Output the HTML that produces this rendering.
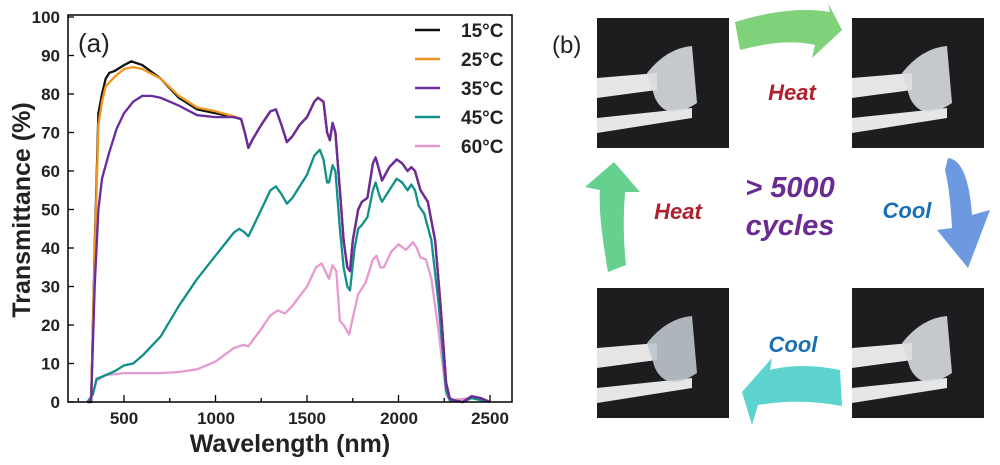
<!DOCTYPE html>
<html><head><meta charset="utf-8"><style>
body{margin:0;background:#fff;width:1000px;height:465px;overflow:hidden}
svg{display:block}
text{font-family:"Liberation Sans",Arial,sans-serif}
</style></head><body>
<svg id="s" width="1000" height="465" viewBox="0 0 1000 465">
<g id="plot"></g>
<rect x="68" y="15" width="444" height="387" fill="none" stroke="#000" stroke-width="1.5"/>
<g font-weight="bold" font-size="17" fill="#222" text-anchor="end" id="yt"></g>
<g font-weight="bold" font-size="17" fill="#222" text-anchor="middle">
<text x="124" y="424">500</text><text x="216" y="424">1000</text><text x="307" y="424">1500</text><text x="399" y="424">2000</text><text x="490" y="424">2500</text>
</g>
<text x="290" y="452" font-weight="bold" font-size="25" text-anchor="middle" fill="#222">Wavelength (nm)</text>
<text transform="translate(30,210) rotate(-90)" font-weight="bold" font-size="25" text-anchor="middle" fill="#222">Transmittance (%)</text>
<text x="78" y="52" font-size="26" fill="#222">(a)</text>
<g stroke-width="2.5">
<line x1="415" y1="30" x2="440" y2="30" stroke="#111"/>
<line x1="415" y1="59" x2="440" y2="59" stroke="#f0961e"/>
<line x1="415" y1="88" x2="440" y2="88" stroke="#6a2aa0"/>
<line x1="415" y1="117" x2="440" y2="117" stroke="#11908a"/>
<line x1="415" y1="146" x2="440" y2="146" stroke="#e79ad0"/>
</g>
<g font-weight="bold" font-size="19" fill="#222">
<text x="461" y="37">15°C</text><text x="461" y="66">25°C</text><text x="461" y="95">35°C</text><text x="461" y="124">45°C</text><text x="461" y="153">60°C</text>
</g>
<!-- panel b -->
<text x="552" y="53" font-size="24" fill="#222">(b)</text>
<g id="photos"></g>
<path d="M735,22 Q790,5 830,12 L828,3 L842,30 L812,58 L815,45 Q785,38 740,50 Z" fill="#7fd27a"/>
<path d="M948,158 Q968,160 972,215 L990,210 L968,268 L937,230 L952,228 Q950,190 945,170 Z" fill="#6d99e0"/>
<path d="M840,370 Q800,362 770,370 L772,358 L742,392 L752,425 L758,405 Q800,398 842,406 Z" fill="#5dd3d0"/>
<path d="M608,272 Q598,215 600,190 L585,187 L614,162 L640,192 L625,192 Q622,230 626,265 Z" fill="#66d18e"/>
<g font-weight="bold" font-style="italic">
<text x="792" y="100" font-size="22" fill="#b0202c" text-anchor="middle">Heat</text>
<text x="678" y="219" font-size="22" fill="#b0202c" text-anchor="middle">Heat</text>
<text x="907" y="218" font-size="22" fill="#1b6fb5" text-anchor="middle">Cool</text>
<text x="793" y="352" font-size="22" fill="#1b6fb5" text-anchor="middle">Cool</text>
<text x="790" y="197" font-size="29" fill="#6a2c91" text-anchor="middle">&gt; 5000</text>
<text x="790" y="235" font-size="29" fill="#6a2c91" text-anchor="middle">cycles</text>
</g>
</svg>
<script>
const X=l=>124+(l-500)*0.183, Y=v=>402-3.85*v;
const black=[[300,0],[320,0],[340,40],[360,75],[380,80],[400,84],[420,85.5],[450,86],[500,87.5],[540,88.5],[600,87.5],[700,84],[800,79],[900,76],[1000,75],[1100,74],[1140,73.5],[1160,70],[1180,66],[1200,68],[1250,72],[1300,75.5],[1330,76],[1360,72],[1390,67.5],[1420,69],[1460,72],[1500,74],[1540,78],[1560,79],[1590,78],[1610,70],[1625,68],[1640,72.5],[1655,70],[1680,55],[1700,42],[1720,35],[1735,34],[1750,42],[1780,50],[1800,52],[1830,53],[1860,62],[1875,63.5],[1890,61],[1910,57.5],[1950,61],[1990,63],[2020,62],[2050,60],[2070,61],[2090,60],[2120,55],[2160,52],[2200,42],[2230,25],[2260,5],[2280,1],[2300,0.5],[2350,0],[2400,1.5],[2450,1],[2500,0]];
const tail=black.filter(p=>p[0]>=1140);
const orange=[[300,0],[320,0],[340,38],[360,72],[380,78],[400,82],[450,84.5],[500,86.5],[550,87],[600,86.5],[700,84],[800,79.5],[900,76.5],[1000,75.5],[1100,74.2]].concat(tail);
const purple=[[300,0],[320,0],[340,30],[360,50],[380,58],[420,65],[460,71],[500,75],[550,78],[600,79.5],[650,79.5],[700,79],[800,77],[900,74.5],[1000,74],[1100,74]].concat(tail);
const teal=[[300,0],[330,2],[350,6],[400,7],[450,8],[500,9.5],[550,10],[600,12],[700,17],[800,25],[900,32],[1000,38],[1100,44],[1130,45],[1160,44],[1180,43],[1200,45],[1250,50],[1300,55],[1330,56],[1360,54],[1390,51.5],[1420,53],[1460,56],[1500,59],[1540,64],[1570,65.5],[1590,63],[1610,57],[1620,57],[1640,61.5],[1655,60],[1680,45],[1700,35],[1720,30],[1735,29],[1760,40],[1780,45],[1800,46],[1830,48],[1860,55],[1875,57],[1900,53],[1910,52],[1950,55],[1990,58],[2020,57],[2050,55],[2070,56.5],[2090,55],[2110,51],[2140,49],[2180,42],[2220,25],[2260,3],[2280,0.5],[2350,0],[2400,1],[2500,0]];
const pink=[[300,0],[330,2],[350,5.5],[400,7],[500,7.5],[600,7.5],[700,7.5],[800,7.8],[900,8.5],[1000,10.5],[1100,14],[1150,14.8],[1180,14.5],[1250,19],[1300,22.5],[1340,23.8],[1380,23],[1420,25],[1500,30],[1550,35],[1580,36],[1600,34],[1620,32],[1640,35.5],[1660,34],[1680,21],[1700,20],[1730,17.5],[1760,24],[1780,28],[1820,31],[1860,37],[1880,38],[1900,35],[1920,35],[1960,39],[2000,41],[2040,39.5],[2080,41.5],[2100,40],[2120,37.5],[2150,37],[2180,32],[2220,18],[2260,2],[2280,0.5],[2400,1],[2500,0]];
let h='';
[[pink,'#e79ad0'],[teal,'#11908a'],[black,'#111'],[orange,'#f0961e'],[purple,'#6a2aa0']].forEach(([d,c])=>{
h+=`<polyline fill="none" stroke="${c}" stroke-width="2.3" stroke-linejoin="round" points="${d.map(p=>X(p[0]).toFixed(1)+','+Y(p[1]).toFixed(1)).join(' ')}"/>`;});
for(let l=250;l<=2500;l+=250){h+=`<line x1="${X(l)}" y1="402" x2="${X(l)}" y2="${l%500?398:395}" stroke="#000" stroke-width="1.3"/>`;}
for(let v=0;v<=100;v+=10){h+=`<line x1="68" y1="${Y(v)}" x2="74" y2="${Y(v)}" stroke="#000" stroke-width="1.3"/>`;}
document.getElementById('plot').innerHTML=h;
let t='';for(let v=0;v<=100;v+=10)t+=`<text x="60" y="${Y(v)+6}">${v}</text>`;
document.getElementById('yt').innerHTML=t;
let ph='';
[[597,18],[852,18],[597,288],[852,288]].forEach(([x,y],i)=>{
ph+=`<rect x="${x}" y="${y}" width="132" height="130" fill="#1d1d1f"/>`;
ph+=`<path d="M${x},${y+60} L${x+60},${y+55} L${x+60},${y+72} L${x},${y+80}Z M${x},${y+100} L${x+95},${y+90} L${x+95},${y+100} L${x},${y+115}Z" fill="#e6e6e6"/>`;
ph+=`<path d="M${x+50},${y+55} Q${x+70},${y+30} ${x+95},${y+28} L${x+100},${y+85} Q${x+70},${y+105} ${x+58},${y+80}Z" fill="${i==2?'#bfc7cc':'#d8dde0'}" opacity="0.9"/>`;
});
document.getElementById('photos').innerHTML=ph;
</script>
</body></html>
